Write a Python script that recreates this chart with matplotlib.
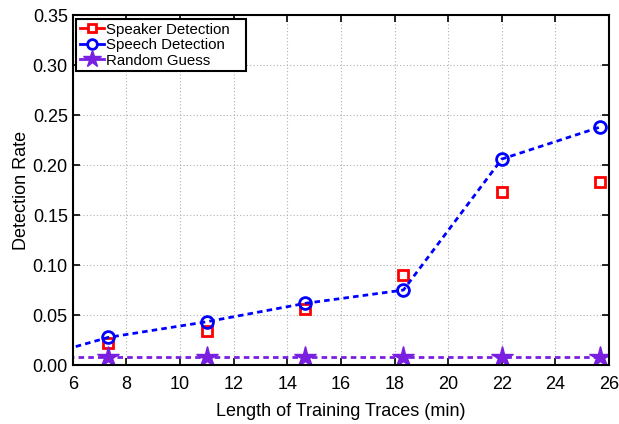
import matplotlib
matplotlib.use("Agg")
import matplotlib.pyplot as plt
from matplotlib.lines import Line2D

plt.rcParams['font.family'] = ['Liberation Sans', 'DejaVu Sans']

# training trace lengths (min); first point lies left of the visible range
trace_len = [3.67, 7.33, 11.0, 14.67, 18.33, 22.0, 25.67]
speaker = [0.0, 0.0217, 0.0343, 0.056, 0.0905, 0.1727, 0.1827]
speech = [0.0, 0.0277, 0.0433, 0.0617, 0.075, 0.206, 0.238]
random_guess = [0.0083, 0.0083, 0.0083, 0.0083, 0.0083, 0.0083, 0.0083]

red = '#ff0000'
blue = '#0000ff'
purple = '#7a1fe0'

fig = plt.figure(figsize=(6.19, 4.24), dpi=100)
ax = fig.add_axes([0.1175, 0.139, 0.8665, 0.8256])

ax.plot(trace_len, speaker, linestyle='none', marker='s', ms=7, mfc='white',
        mec=red, mew=2)
ax.plot(trace_len, speech, color=blue, lw=2, ls=(0, (2, 1.5)), marker='o',
        ms=8.5, mfc='none', mec=blue, mew=2)
ax.plot(trace_len, random_guess, color=purple, lw=2, ls=(0, (2, 1.5)),
        marker='*', ms=16, mfc=purple, mec=purple)

ax.set_xlim(6, 26)
ax.set_ylim(0, 0.35)
ax.set_xticks(range(6, 27, 2))
ax.set_yticks([0, 0.05, 0.10, 0.15, 0.20, 0.25, 0.30, 0.35])
ax.set_yticklabels(['%.2f' % v for v in ax.get_yticks()])
ax.tick_params(direction='in', top=True, right=True, labelsize=13, length=5, width=1.2)
ax.tick_params(axis='x', pad=8)
ax.grid(True, linestyle=(0, (1, 2)), color='#b0b0b0', lw=0.8)
for s in ax.spines.values():
    s.set_linewidth(1.5)

ax.set_xlabel('Length of Training Traces (min)', fontsize=13, labelpad=7)
ax.set_ylabel('Detection Rate', fontsize=13, labelpad=2)

handles = [
    Line2D([], [], color=red, lw=2, marker='s', ms=6, mfc='white', mec=red, mew=2),
    Line2D([], [], color=blue, lw=2, marker='o', ms=7, mfc='white', mec=blue, mew=2),
    Line2D([], [], color=purple, lw=2, marker='*', ms=13, mfc=purple, mec=purple),
]
leg = ax.legend(handles, ['Speaker Detection   ', 'Speech Detection', 'Random Guess'],
                loc='upper left', fontsize=10.8, fancybox=False, edgecolor='black',
                framealpha=1, handlelength=1.6, handletextpad=0.15,
                borderaxespad=0.25, borderpad=0.25, labelspacing=0.1)
leg.get_frame().set_linewidth(1.5)

fig.savefig('out.png', dpi=100)
